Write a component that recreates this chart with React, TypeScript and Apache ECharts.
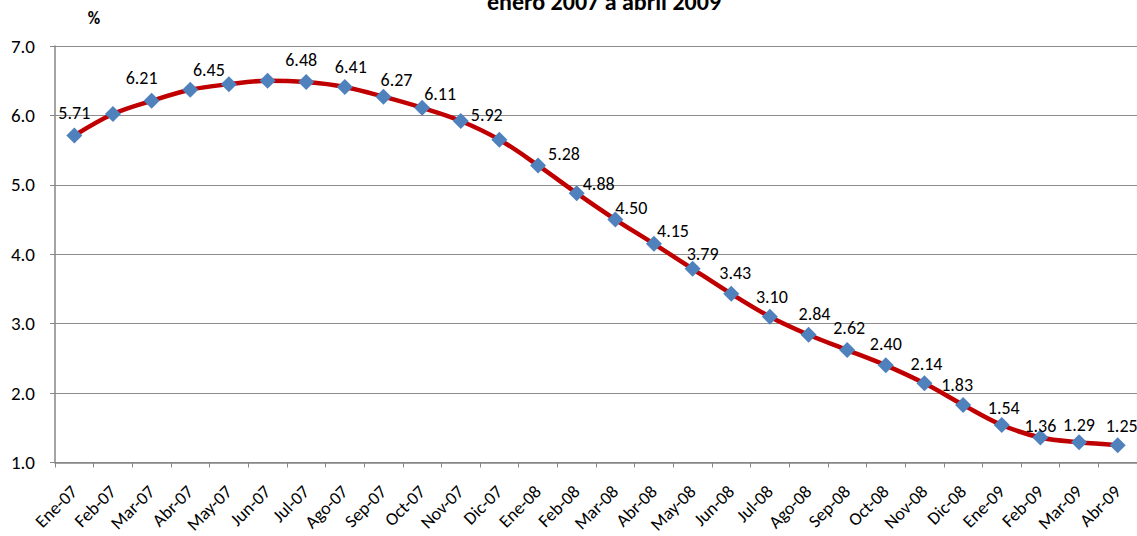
import React, { useEffect, useRef } from "react";
import * as echarts from "echarts";

const categories = [
  "Ene-07", "Feb-07", "Mar-07", "Abr-07", "May-07", "Jun-07", "Jul-07", "Ago-07", "Sep-07", "Oct-07", "Nov-07", "Dic-07",
  "Ene-08", "Feb-08", "Mar-08", "Abr-08", "May-08", "Jun-08", "Jul-08", "Ago-08", "Sep-08", "Oct-08", "Nov-08", "Dic-08",
  "Ene-09", "Feb-09", "Mar-09", "Abr-09",
];
const values = [
  5.71, 6.02, 6.21, 6.37, 6.45, 6.5, 6.48, 6.41, 6.27, 6.11, 5.92, 5.65,
  5.28, 4.88, 4.5, 4.15, 3.79, 3.43, 3.1, 2.84, 2.62, 2.4, 2.14, 1.83,
  1.54, 1.36, 1.29, 1.25,
];
const unlabeled = ["Feb-07", "Abr-07", "Jun-07", "Dic-07"];
const titleText = "enero 2007 a abril 2009";
const unitText = "%";

const FONT = "Carlito, Calibri, Lato, 'Open Sans', sans-serif";

// label centre nudges (px) relative to each marker, as placed in the reference
const labelNudge: Record<string, [number, number]> = {
  "Ene-07": [0, -23], "Mar-07": [-10, -23], "May-07": [-20, -14], "Jul-07": [-5, -22],
  "Ago-07": [6, -20], "Sep-07": [13, -17], "Oct-07": [18, -14], "Nov-07": [26, -6],
  "Ene-08": [26, -11], "Feb-08": [22, -9], "Mar-08": [16, -12], "Abr-08": [19, -13],
  "May-08": [10, -15], "Jun-08": [4, -21], "Jul-08": [2, -20], "Ago-08": [6, -21],
  "Sep-08": [2, -22], "Oct-08": [0, -21], "Nov-08": [2, -19], "Dic-08": [-6, -20],
  "Ene-09": [2, -17], "Feb-09": [0, -12], "Mar-09": [0, -17], "Abr-09": [4, -19],
};

function labelFor(i: number) {
  const c = categories[i];
  if (unlabeled.includes(c)) return { show: false };
  const off = labelNudge[c] || [0, -20];
  return { show: true, position: "inside", offset: off };
}

export default function App() {
  const ref = useRef<HTMLDivElement>(null);
  useEffect(() => {
    if (!ref.current) return;
    const chart = echarts.init(ref.current, undefined, { renderer: "svg" });
    chart.setOption({
      animation: false,
      backgroundColor: "#ffffff",
      textStyle: { fontFamily: FONT },
      graphic: [
        {
          type: "text",
          x: 487,
          y: 1,
          style: {
            text: titleText,
            font: `bold 24px ${FONT}`,
            fill: "#000",
            align: "left",
            verticalAlign: "middle",
          },
        },
        {
          type: "text",
          x: 94,
          y: 18,
          style: {
            text: unitText,
            font: `bold 17px ${FONT}`,
            fill: "#000",
            align: "center",
            verticalAlign: "middle",
          },
        },
      ],
      grid: { left: 55, right: -3, top: 46, bottom: 70, containLabel: false },
      xAxis: {
        type: "category",
        data: categories,
        boundaryGap: true,
        axisLine: { lineStyle: { color: "#868686", width: 1.5 } },
        axisTick: { show: true, alignWithLabel: false, length: 5, lineStyle: { color: "#868686" } },
        axisLabel: { rotate: 45, interval: 0, fontSize: 18, color: "#000", fontFamily: FONT, margin: 26 },
        splitLine: { show: false },
      },
      yAxis: {
        type: "value",
        min: 1,
        max: 7,
        interval: 1,
        axisLine: { show: true, lineStyle: { color: "#868686", width: 1.5 } },
        axisTick: { show: true, length: 5, lineStyle: { color: "#868686" } },
        axisLabel: {
          fontSize: 19,
          color: "#000",
          fontFamily: FONT,
          margin: 20,
          formatter: (v: number) => v.toFixed(1),
        },
        splitLine: { show: true, lineStyle: { color: "#8c8c8c", width: 1.2 } },
      },
      series: [
        {
          type: "line",
          smooth: 0.35,
          data: values.map((v, i) => ({ value: v, label: labelFor(i) })),
          symbol: "diamond",
          symbolSize: 16,
          itemStyle: { color: "#4f81bd" },
          lineStyle: { color: "#c00000", width: 4.5 },
          label: {
            fontSize: 18,
            color: "#000",
            fontFamily: FONT,
            formatter: (p: any) => Number(p.value).toFixed(2),
          },
          z: 3,
        },
      ],
    });
    return () => chart.dispose();
  }, []);
  return (
    <div
      ref={ref}
      style={{ position: "absolute", left: 0, top: 0, width: 1137, height: 536, background: "#fff" }}
    />
  );
}
